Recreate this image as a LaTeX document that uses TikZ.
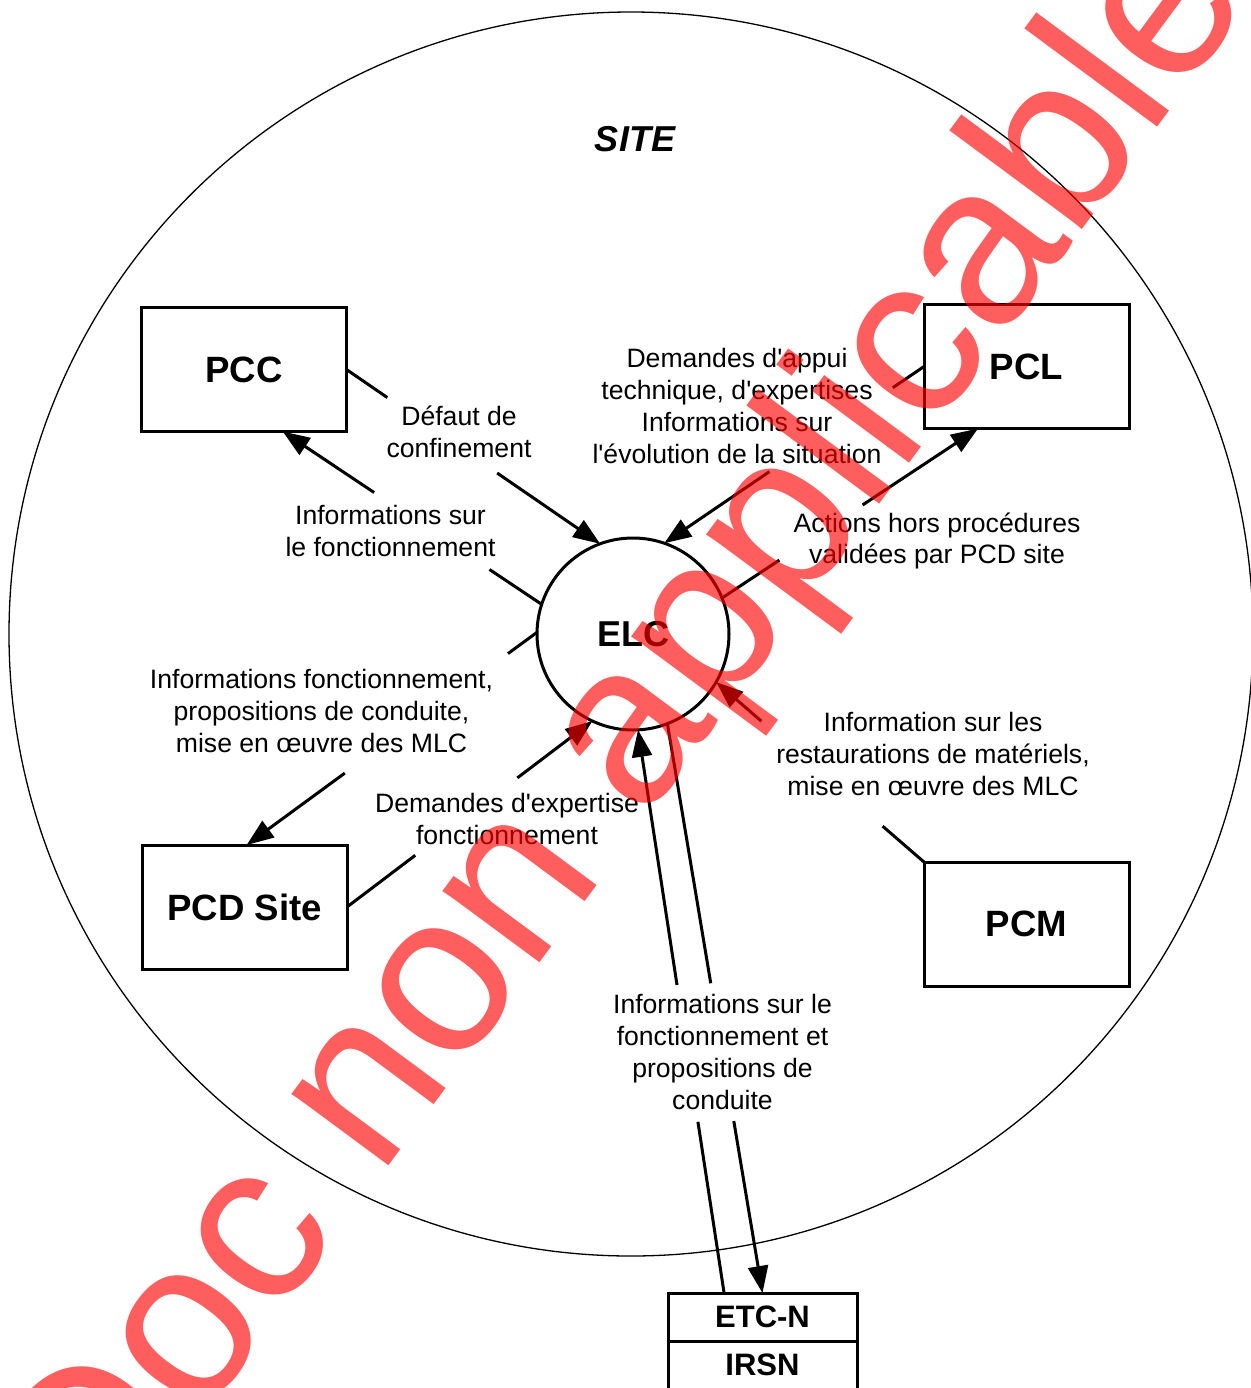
\documentclass[tikz,border=0pt]{standalone}
\usepackage{fontspec}
\setmainfont{Liberation Sans}
\usetikzlibrary{arrows.meta,calc}
% straight apostrophe, not turned into a curly quote
\newcommand{\apos}{\textquotesingle}

\begin{document}
\begin{tikzpicture}[x=0.5pt,y=-0.5pt,
  box/.style={draw,line width=1.5pt,minimum width=102.5pt,minimum height=62pt,
    inner sep=0pt,outer sep=0pt,font=\fontsize{18.3}{21}\selectfont\bfseries},
  cell/.style={draw,line width=1.5pt,minimum width=94.5pt,minimum height=24pt,
    inner sep=0pt,outer sep=0pt,font=\fontsize{15.5}{18}\selectfont\bfseries},
  lbl/.style={align=center,font=\fontsize{13.3}{15.9}\selectfont,inner sep=0pt},
  link/.style={line width=1.5pt},
  arr/.style={link,-{Triangle[length=13.5pt,width=10pt]}},
  stamp/.style={text=red,text opacity=0.63,font=\fontsize{114}{114}\selectfont,inner sep=0pt},
]
\useasboundingbox (0,0) rectangle (1251,1388);

% site boundary
\draw[line width=0.65pt] (631,634) circle[radius=311pt];
\node[font=\fontsize{18}{20}\selectfont\bfseries\itshape,anchor=base] (site) at (635,151) {SITE};

% actors
\node[box] (pcc) at (244,369.5) {PCC};
\node[box] (pcl) at (1026.5,366.5) {PCL};
\node[box] (pcd) at (244.5,907) {PCD Site};
\node[box] (pcm) at (1026.5,924) {PCM};
\node[circle,draw,line width=1.5pt,minimum size=96pt,inner sep=0pt,outer sep=0pt,
  font=\fontsize{18}{21}\selectfont\bfseries] (elc) at (633,634) {ELC};
\node[cell] (etc) at (762.5,1317) {ETC-N};
\node[cell] (irsn) at (762.5,1365) {IRSN};

% flow labels
\node[lbl] (l1) at (459,432) {Défaut de\\confinement};
\node[lbl] (l2) at (390.5,531) {Informations sur\\le fonctionnement};
\node[lbl] (l3) at (737,406) {Demandes d\apos appui\\technique, d\apos expertises\\Informations sur\\l\apos évolution de la situation};
\node[lbl] (l4) at (937,541) {Actions hors procédures\\validées par PCD site};
\node[lbl] (l5) at (321.5,711) {Informations fonctionnement,\\propositions de conduite,\\mise en œuvre des MLC};
\node[lbl] (l6) at (507,819) {Demandes d\apos expertise\\fonctionnement};
\node[lbl] (l7) at (933,754) {Information sur les\\restaurations de matériels,\\mise en œuvre des MLC};
\node[lbl] (l8) at (722.5,1052) {Informations sur le\\fonctionnement et\\propositions de\\conduite};

% connector end points on the borders
\coordinate (a1) at (pcc.east);     \coordinate (b1) at (elc.110);
\coordinate (a2) at (elc.162);      \coordinate (b2) at (pcc.-58.3);
\coordinate (a3) at (pcl.west);     \coordinate (b3) at (elc.71);
\coordinate (a4) at (elc.22);       \coordinate (b4) at (pcl.-128);
\coordinate (a5) at (elc.179);      \coordinate (b5) at (pcd.88);
\coordinate (a6) at (pcd.east);     \coordinate (b6) at (elc.-115);
\coordinate (a7) at (pcm.north west); \coordinate (b7) at (elc.-30);
\coordinate (a8) at (etc.148.7);    \coordinate (b8) at (elc.-87);
\coordinate (a9) at (elc.-69);      \coordinate (b9) at (etc.north);

% each flow is interrupted where its label sits
\foreach \i/\s/\e in {1/0.161/0.594, 2/0.2016/0.647, 3/0.12/0.595,
                      4/0.224/0.549, 5/0.1/0.662, 6/0.278/0.694,
                      7/0.199/0.782, 8/0.304/0.547, 9/0.456/0.698}{
  \coordinate (s\i) at ($(a\i)!\s!(b\i)$);
  \coordinate (e\i) at ($(a\i)!\e!(b\i)$);
  \draw[link] (a\i) -- (s\i);
  \draw[arr] (e\i) -- (b\i);
}

% stamp
\node[stamp,rotate=53.5,anchor=base] (stamp) at (678,776) {Doc non applicable};
\end{tikzpicture}
\end{document}
